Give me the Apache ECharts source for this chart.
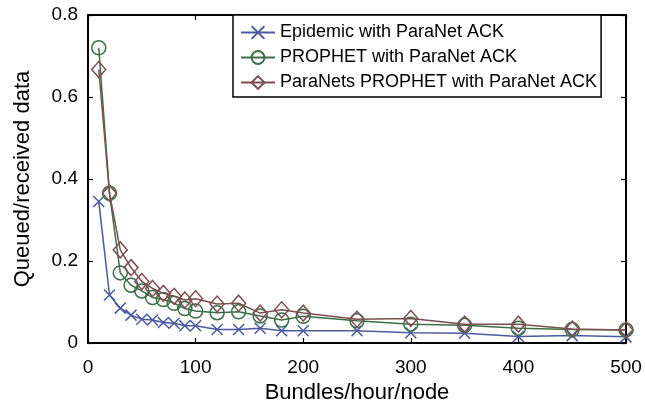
<!DOCTYPE html>
<html>
<head>
<meta charset="utf-8">
<script src="https://cdn.jsdelivr.net/npm/echarts@6/dist/echarts.min.js"></script>
<style>
html,body{margin:0;padding:0;background:#fff;}
#chart{width:645px;height:403px;}
</style>
</head>
<body>
<div id="chart"></div>
<script>
var bundles = [10,20,30,40,50,60,70,80,90,100,120,140,160,180,200,250,300,350,400,450,500];
var epidemic = [0.345,0.117,0.085,0.068,0.058,0.056,0.05,0.048,0.042,0.042,0.033,0.033,0.036,0.03,0.03,0.03,0.025,0.024,0.016,0.018,0.015];
var prophet = [0.72,0.365,0.171,0.141,0.127,0.111,0.106,0.097,0.084,0.078,0.074,0.076,0.066,0.056,0.065,0.054,0.046,0.043,0.036,0.033,0.032];
var paranets = [0.667,0.365,0.227,0.184,0.15,0.133,0.121,0.114,0.105,0.108,0.095,0.097,0.073,0.081,0.073,0.058,0.06,0.046,0.046,0.034,0.032];
var seriesNames = ['Epidemic with ParaNet ACK','PROPHET with ParaNet ACK','ParaNets PROPHET with ParaNet ACK'];
var xTicks = [0,100,200,300,400,500];
var yTicks = [0,0.2,0.4,0.6,0.8];

function pairs(ys){ return bundles.map(function(x,i){ return [x, ys[i]]; }); }

var colBlue = '#4b5aa0', colGreen = '#3c6f47', colBrown = '#7b4f50';
var FONT = 'Liberation Sans, Arial, sans-serif';

var chart = echarts.init(document.getElementById('chart'), null, {renderer:'canvas'});
var axisCommon = {
  axisLine:{show:true, onZero:false, lineStyle:{color:'#000', width:2}},
  axisTick:{show:true, inside:true, length:5, lineStyle:{color:'#000', width:1.2}},
  splitLine:{show:false}
};
chart.setOption({
  animation:false,
  backgroundColor:'#fff',
  grid:{left:88, top:15, right:19, bottom:60, containLabel:false, outerBoundsMode:'none'},
  legend:{
    orient:'vertical', left:233, top:15,
    padding:[7,4,4,7],
    itemGap:4, itemWidth:34, itemHeight:16,
    borderColor:'#000', borderWidth:1.5, backgroundColor:'#fff',
    textStyle:{fontFamily:FONT, fontSize:18, color:'#000', lineHeight:21},
    data:seriesNames
  },
  xAxis:[
    Object.assign({type:'value', min:0, max:500, interval:100, position:'bottom',
      name:'Bundles/hour/node', nameLocation:'middle', nameGap:37,
      nameTextStyle:{fontFamily:FONT, fontSize:22, color:'#000'},
      axisLabel:{fontFamily:FONT, fontSize:19, color:'#000', margin:15}}, axisCommon),
    Object.assign({type:'value', min:0, max:500, interval:100, position:'top',
      axisLabel:{show:false}}, axisCommon)
  ],
  yAxis:[
    Object.assign({type:'value', min:0, max:0.8, interval:0.2, position:'left',
      name:'Queued/received data', nameLocation:'middle', nameGap:54,
      nameTextStyle:{fontFamily:FONT, fontSize:22, color:'#000'},
      axisLabel:{fontFamily:FONT, fontSize:19, color:'#000', margin:10,
        formatter:function(v){ return v===0 ? '0' : v.toFixed(1); }}}, axisCommon),
    Object.assign({type:'value', min:0, max:0.8, interval:0.2, position:'right',
      axisLabel:{show:false}}, axisCommon)
  ],
  series:[
    {name:seriesNames[0], type:'line', data:pairs(epidemic),
      symbol:'path://M0,0L10,10M0,10L10,0', symbolSize:11,
      lineStyle:{color:colBlue, width:1.5},
      itemStyle:{color:'none', borderColor:colBlue, borderWidth:1.5}, z:2},
    {name:seriesNames[1], type:'line', data:pairs(prophet),
      symbol:'circle', symbolSize:14,
      lineStyle:{color:colGreen, width:1.5},
      itemStyle:{color:'none', borderColor:colGreen, borderWidth:1.5}, z:3},
    {name:seriesNames[2], type:'line', data:pairs(paranets),
      symbol:'diamond', symbolSize:[14,16],
      lineStyle:{color:colBrown, width:1.5},
      itemStyle:{color:'none', borderColor:colBrown, borderWidth:1.5}, z:4}
  ]
});
</script>
</body>
</html>
